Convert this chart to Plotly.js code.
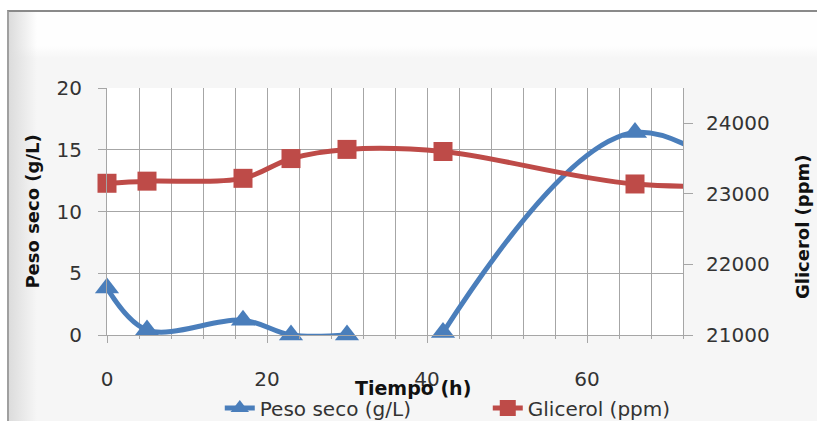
<!DOCTYPE html>
<html>
<head>
<meta charset="utf-8">
<script src="https://cdn.plot.ly/plotly-3.0.1.min.js"></script>
<style>
  html, body { margin:0; padding:0; background:#ffffff; overflow:hidden; }
  #frame { position:absolute; left:7px; top:10px; width:830px; height:430px;
           border-top:2px solid #8a8a8a; border-left:2px solid #a0a0a0;
           background: linear-gradient(to bottom, #fefefe 0px, #fefefe 34px, #f6f6f6 46px, #f6f6f6 100%); }
  #shade { position:absolute; left:9px; top:12px; width:28px; height:420px;
           background: linear-gradient(to right, #dcdcdc, rgba(246,246,246,0)); }
  #chart { position:absolute; left:0; top:0; width:817px; height:421px; }
</style>
</head>
<body>
<div id="frame"></div>
<div id="shade"></div>
<div id="chart"></div>
<script>
// Data
const pesoTime   = [0, 5, 17, 23, 30, 36, 42, 66, 90];
const pesoSeco   = [3.8, 0.4, 1.2, 0, 0, null, 0.2, 16.4, 6];
const glicTime   = [0, 5, 17, 23, 30, 42, 66, 90];
const glicerol   = [23150, 23180, 23220, 23500, 23630, 23600, 23140, 23150];
const seriesNames = ['Peso seco (g/L)', 'Glicerol (ppm)'];
const xTitle = 'Tiempo (h)';
const yTitle = 'Peso seco (g/L)';
const y2Title = 'Glicerol (ppm)';

const blue = '#4a7ebb';
const red = '#be4b48';
const gridCol = '#a6a6a6';
const font = 'DejaVu Sans, Verdana, sans-serif';

const traces = [
  { x: pesoTime, y: pesoSeco, name: seriesNames[0], type: 'scatter', mode: 'lines+markers',
    line: { color: blue, width: 5, shape: 'spline', smoothing: 1 },
    marker: { symbol: 'triangle-up', size: 21, color: blue },
    connectgaps: false, cliponaxis: false },
  { x: glicTime, y: glicerol, name: seriesNames[1], type: 'scatter', mode: 'lines+markers',
    yaxis: 'y2',
    line: { color: red, width: 5, shape: 'spline', smoothing: 1 },
    marker: { symbol: 'square', size: 19, color: red },
    cliponaxis: false }
];

const layout = {
  width: 817, height: 421,
  margin: { l: 107, r: 134, t: 88, b: 86, autoexpand: false },
  paper_bgcolor: 'rgba(0,0,0,0)',
  plot_bgcolor: '#ffffff',
  showlegend: true,
  font: { family: font, color: '#333333', size: 20 },
  xaxis: {
    range: [0, 72], dtick: 20, tick0: 0,
    showgrid: true, gridcolor: gridCol, gridwidth: 1,
    showline: true, linecolor: gridCol, linewidth: 1,
    ticks: 'outside', ticklen: 7, tickcolor: gridCol,
    ticklabelstandoff: 19,
    zeroline: false,
    tickfont: { family: font, size: 20, color: '#333333' },
    minor: { dtick: 4, showgrid: true, gridcolor: gridCol, gridwidth: 1, ticks: 'outside', ticklen: 3, tickcolor: gridCol }
  },
  yaxis: {
    range: [0, 20], dtick: 5,
    showgrid: true, gridcolor: gridCol, gridwidth: 1,
    showline: true, linecolor: gridCol, linewidth: 1,
    ticks: 'outside', ticklen: 8, tickcolor: gridCol,
    ticklabelstandoff: 12,
    zeroline: false,
    tickfont: { family: font, size: 20, color: '#333333' }
  },
  yaxis2: {
    overlaying: 'y', side: 'right',
    range: [21000, 24500], dtick: 1000, tick0: 21000,
    showgrid: false, zeroline: false,
    showline: true, linecolor: gridCol, linewidth: 1,
    ticks: 'outside', ticklen: 9, tickcolor: gridCol,
    ticklabelstandoff: 9,
    tickformat: 'd',
    tickfont: { family: font, size: 20, color: '#333333' }
  },
  legend: {
    orientation: 'h', xref: 'container', yref: 'container',
    x: 0.269, xanchor: 'left', y: 0.031, yanchor: 'middle',
    bgcolor: 'rgba(0,0,0,0)',
    font: { family: font, size: 20, color: '#333333' },
    entrywidth: 223, entrywidthmode: 'pixels'
  },
  annotations: [
    { text: '<b>' + xTitle + '</b>', xref: 'paper', yref: 'paper', x: 0.531, y: -0.2146,
      xanchor: 'center', yanchor: 'middle', showarrow: false,
      font: { family: font, size: 19, color: '#111111' } },
    { text: '<b>' + yTitle + '</b>', xref: 'paper', yref: 'paper', x: -0.130, y: 0.5,
      xanchor: 'center', yanchor: 'middle', textangle: -90, showarrow: false,
      font: { family: font, size: 18, color: '#111111' } },
    { text: '<b>' + y2Title + '</b>', xref: 'paper', yref: 'paper', x: 1.2066, y: 0.437,
      xanchor: 'center', yanchor: 'middle', textangle: -90, showarrow: false,
      font: { family: font, size: 18, color: '#111111' } }
  ]
};

Plotly.newPlot('chart', traces, layout, { displayModeBar: false, staticPlot: true });
</script>
</body>
</html>
